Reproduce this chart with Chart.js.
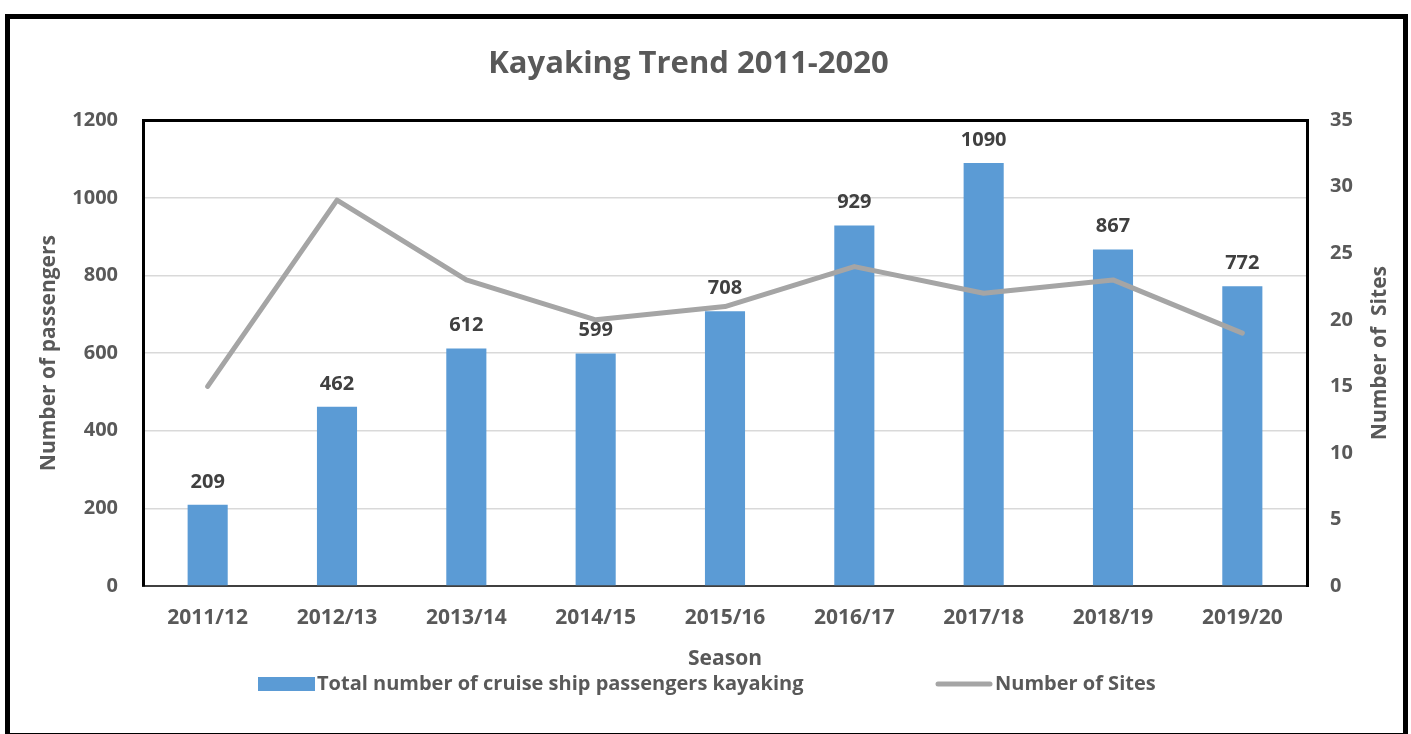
<!DOCTYPE html>
<html>
<head>
<meta charset="utf-8">
<script src="https://cdn.jsdelivr.net/npm/chart.js@4.4.0/dist/chart.umd.min.js"></script>
<style>
html, body { margin: 0; padding: 0; background: #fff; overflow: hidden; width: 1411px; height: 734px; }
#frame { position: absolute; left: 5px; top: 14px; width: 1403px; height: 724px; border: 5px solid #000; box-sizing: border-box; pointer-events: none; }
#c { position: absolute; left: -34px; top: 0; }
</style>
</head>
<body>
<canvas id="c" width="1445" height="734"></canvas>
<div id="frame"></div>
<script>
// data
const seasons = ["2011/12", "2012/13", "2013/14", "2014/15", "2015/16", "2016/17", "2017/18", "2018/19", "2019/20"];
const passengers = [209, 462, 612, 599, 708, 929, 1090, 867, 772];
const sites = [15, 29, 23, 20, 21, 24, 22, 23, 19];
const passengerAxis = { min: 0, max: 1200, step: 200 };
const sitesAxis = { min: 0, max: 35, step: 5 };

const FONT = "'Open Sans', sans-serif";
const TEXT = "#595959";
Chart.defaults.font.family = FONT;
Chart.defaults.font.weight = "bold";
Chart.defaults.color = TEXT;

// numbers above the bars
const barLabels = {
	id: "barLabels",
	afterDatasetsDraw(chart) {
		const ctx = chart.ctx;
		const meta = chart.getDatasetMeta(1);
		ctx.save();
		ctx.font = "bold 20px " + FONT;
		ctx.fillStyle = "#404040";
		ctx.textAlign = "center";
		ctx.textBaseline = "alphabetic";
		meta.data.forEach((bar, i) => {
			ctx.fillText(chart.data.datasets[1].data[i], bar.x, bar.y - 17);
		});
		ctx.restore();
	}
};

// right axis title reads bottom-up like the left one, plus the wide legend
const extras = {
	id: "extras",
	afterDraw(chart) {
		const ctx = chart.ctx;
		const area = chart.chartArea;
		ctx.save();
		ctx.fillStyle = TEXT;
		ctx.font = "bold 21px " + FONT;
		ctx.translate(1414, (area.top + area.bottom) / 2);
		ctx.rotate(-Math.PI / 2);
		ctx.textAlign = "center";
		ctx.textBaseline = "middle";
		ctx.fillText("Number of  Sites", 0, 0);
		ctx.restore();

		const bars = chart.data.datasets[1];
		const line = chart.data.datasets[0];
		const y = 684;
		ctx.save();
		ctx.font = "bold 20px " + FONT;
		ctx.textBaseline = "middle";
		ctx.textAlign = "left";
		ctx.fillStyle = bars.backgroundColor;
		ctx.fillRect(292, y - 7, 57, 14);
		ctx.fillStyle = TEXT;
		ctx.fillText(bars.label, 351, y);
		ctx.strokeStyle = line.borderColor;
		ctx.lineWidth = 5;
		ctx.lineCap = "round";
		ctx.beginPath();
		ctx.moveTo(972, y);
		ctx.lineTo(1024, y);
		ctx.stroke();
		ctx.fillText(line.label, 1029, y);
		ctx.restore();
	}
};

new Chart(document.getElementById("c"), {
	data: {
		labels: seasons,
		datasets: [{
			type: "line",
			label: "Number of Sites",
			data: sites,
			yAxisID: "y1",
			borderColor: "#A5A5A5",
			backgroundColor: "#A5A5A5",
			borderWidth: 5,
			borderCapStyle: "round",
			borderJoinStyle: "round",
			tension: 0,
			pointRadius: 0,
			order: 0
		}, {
			type: "bar",
			label: "Total number of cruise ship passengers kayaking",
			data: passengers,
			yAxisID: "y",
			backgroundColor: "#5B9BD5",
			categoryPercentage: 1,
			barPercentage: 0.31,
			order: 1
		}]
	},
	options: {
		responsive: false,
		animation: false,
		layout: { padding: { left: 0, right: 0, top: 0, bottom: 58 } },
		plugins: {
			legend: { display: false },
			tooltip: { enabled: false },
			title: {
				display: true,
				text: "Kayaking Trend 2011-2020",
				color: TEXT,
				font: { size: 31, weight: "bold" },
				padding: { top: 46, bottom: 37 }
			}
		},
		scales: {
			x: {
				offset: true,
				grid: { display: false, drawTicks: false },
				border: { color: "#404040", width: 2 },
				ticks: { padding: 19, font: { size: 21 }, color: TEXT },
				title: { display: true, text: "Season", font: { size: 21 }, color: TEXT, padding: { top: 0, bottom: 4 } },
				afterFit(s) { s.height = 90; }
			},
			y: {
				position: "left",
				min: passengerAxis.min,
				max: passengerAxis.max,
				ticks: { stepSize: passengerAxis.step, padding: 25, font: { size: 20 }, color: TEXT, callback: (v) => String(v) },
				grid: {
					drawTicks: false,
					color: (c) => c.tick && c.tick.value === passengerAxis.max ? "#000" : "#D9D9D9",
					lineWidth: (c) => c.tick && c.tick.value === passengerAxis.max ? 3 : 1.5
				},
				border: { color: "#000", width: 3 },
				title: { display: true, text: "Number of passengers", font: { size: 21 }, color: TEXT, padding: { top: 70, bottom: 0 } },
				afterFit(s) { s.width = 177; }
			},
			y1: {
				position: "right",
				min: sitesAxis.min,
				max: sitesAxis.max,
				ticks: { stepSize: sitesAxis.step, padding: 23, font: { size: 20 }, color: TEXT },
				grid: { display: false, drawTicks: false },
				border: { color: "#000", width: 3 },
				afterFit(s) { s.width = 104; }
			}
		}
	},
	plugins: [barLabels, extras]
});
</script>
</body>
</html>
